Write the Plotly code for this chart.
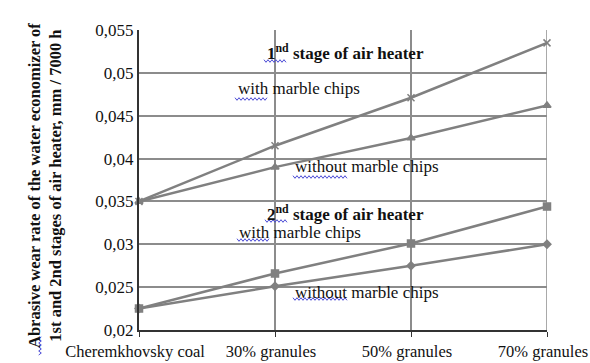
import plotly.graph_objects as go

categories = ["Cheremkhovsky coal", "30% granules", "50% granules", "70% granules"]
stage1_with = [0.035, 0.0415, 0.0471, 0.0535]
stage1_without = [0.035, 0.0390, 0.0424, 0.0462]
stage2_with = [0.0225, 0.0266, 0.0301, 0.0344]
stage2_without = [0.0225, 0.0251, 0.0275, 0.0300]
y_ticks = [0.02, 0.025, 0.03, 0.035, 0.04, 0.045, 0.05, 0.055]
y_tick_labels = ["0,02", "0,025", "0,03", "0,035", "0,04", "0,045", "0,05", "0,055"]

LINE = "#808080"
FONT = "'Liberation Serif', Tinos, 'Times New Roman', 'DejaVu Serif', serif"
W, H = 590, 363
ML, MR, MT, MB = 139, 43, 30, 33
xs = list(range(len(categories)))


def px_to_paper(px, py):
    return (px - ML) / (W - ML - MR), (H - MB - py) / (H - MT - MB)


def squiggle(x0, x1, y, vertical=False, step=2.0, amp=1.3):
    """Spell-check style wavy underline, given in pixel coordinates."""
    pts = []
    n = int(abs(x1 - x0) / step)
    sgn = 1 if x1 >= x0 else -1
    for i in range(n + 1):
        a = x0 + sgn * i * step
        b = y + (amp if i % 2 else -amp)
        pts.append(px_to_paper(b, a) if vertical else px_to_paper(a, b))
    path = "M " + " L ".join(f"{u:.5f},{v:.5f}" for u, v in pts)
    return dict(type="path", path=path, xref="paper", yref="paper",
                line=dict(color="#4b4bd6", width=1))


fig = go.Figure()
series = [
    (stage1_with, "x-thin", 7),
    (stage1_without, "triangle-up", 7),
    (stage2_with, "square", 7),
    (stage2_without, "diamond", 6),
]
for vals, sym, size in series:
    fig.add_trace(go.Scatter(
        x=xs, y=vals, mode="lines+markers",
        line=dict(color=LINE, width=2.5),
        marker=dict(symbol=sym, size=size, color=LINE,
                    line=dict(color=LINE, width=1.5)),
        showlegend=False, cliponaxis=False,
    ))

ann = [
    (0.93, 0.0524, "<b>1<sup>nd</sup> stage of air heater</b>"),
    (0.71, 0.0482, "with marble chips"),
    (1.13, 0.0391, "without marble chips"),
    (0.93, 0.03365, "<b>2<sup>nd</sup> stage of air heater</b>"),
    (0.72, 0.0314, "with marble chips"),
    (1.13, 0.0244, "without marble chips"),
]
for x, y, t in ann:
    fig.add_annotation(x=x, y=y, text=t, showarrow=False, xanchor="left",
                       font=dict(family=FONT, size=17, color="#111"))

# rotated two-line axis title
tx, ty = px_to_paper(23, 186)
fig.add_annotation(
    xref="paper", yref="paper", x=tx, y=ty, textangle=-90, showarrow=False,
    text="<b>Abrasive wear rate of the water economizer of<br>1st and 2nd stages of air heater, mm / 7000 h</b>",
    font=dict(family=FONT, size=16.5, color="#111"),
)

# right border of the plot frame
fig.add_shape(type="line", x0=3, x1=3, y0=0.02, y1=0.055,
              line=dict(color="#8c8c8c", width=1.5), layer="below")

for s in [squiggle(264, 286, 61), squiggle(235, 267, 99), squiggle(293, 347, 177),
          squiggle(265, 287, 221), squiggle(237, 269, 240), squiggle(293, 347, 299),
          squiggle(355, 336, 40, vertical=True)]:
    fig.add_shape(**s)

fig.update_layout(
    width=W, height=H,
    margin=dict(l=ML, r=MR, t=MT, b=MB),
    paper_bgcolor="white", plot_bgcolor="white",
    font=dict(family=FONT, size=17, color="#111"),
    xaxis=dict(
        range=[0, 3], tickvals=xs, ticktext=categories,
        showgrid=True, gridcolor="#8c8c8c", gridwidth=1.5,
        showline=True, linecolor="#333", linewidth=2,
        ticks="outside", ticklen=5, tickcolor="#333",
        tickfont=dict(family=FONT, size=16.5), zeroline=False,
        ticklabeloverflow="allow", automargin=False, ticklabelshift=-4,
    ),
    yaxis=dict(
        range=[0.02, 0.055], tickvals=y_ticks, ticktext=y_tick_labels,
        showgrid=True, gridcolor="#8c8c8c", gridwidth=1.5,
        showline=True, linecolor="#333", linewidth=2,
        ticks="", tickfont=dict(family=FONT, size=17), zeroline=False,
        automargin=False,
    ),
)

fig.write_html("out.html")
